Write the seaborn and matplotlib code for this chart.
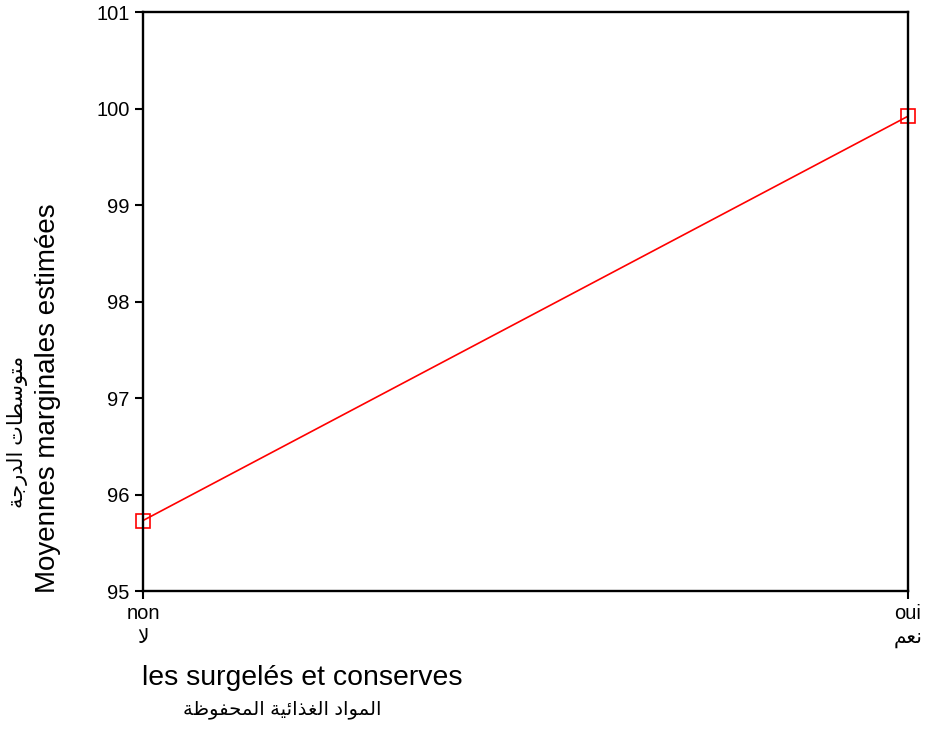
import matplotlib
matplotlib.use("Agg")
import matplotlib.pyplot as plt
import seaborn as sns
import pandas as pd

# data
groups = ["non", "oui"]
groups_ar = ["لا", "نعم"]
means = [95.73, 99.92]

y_ticks = [95, 96, 97, 98, 99, 100, 101]
x_label = "les surgelés et conserves"
x_label_ar = "المواد الغذائية المحفوظة"
y_label = "Moyennes marginales estimées"
y_label_ar = "متوسطات الدرجة"

# minimal arabic shaping (matplotlib has no bidi / joining)
DUAL = {'ت': 0xFE95, 'ج': 0xFE9D, 'ح': 0xFEA1, 'س': 0xFEB1, 'ط': 0xFEC1,
        'ظ': 0xFEC5, 'ع': 0xFEC9, 'غ': 0xFECD, 'ف': 0xFED1, 'ل': 0xFEDD,
        'م': 0xFEE1, 'ن': 0xFEE5, 'ي': 0xFEF1, 'ئ': 0xFE89}
RIGHT = {'ا': 0xFE8D, 'ة': 0xFE93, 'د': 0xFEA9, 'ذ': 0xFEAB, 'ر': 0xFEAD,
         'و': 0xFEED, '\uFEFB': 0xFEFB}


def shape(text):
    s = text.replace('لا', '\uFEFB')
    res = []
    for i, c in enumerate(s):
        if c in DUAL:
            base = DUAL[c]
        elif c in RIGHT:
            base = RIGHT[c]
        else:
            res.append(c)
            continue
        prev = s[i - 1] if i > 0 else ''
        nxt = s[i + 1] if i + 1 < len(s) else ''
        form = 0
        if prev in DUAL:
            form += 1
        if c in DUAL and (nxt in DUAL or nxt in RIGHT):
            form += 2
        res.append(chr(base + form))
    return ''.join(res)[::-1]


sns.set_style("ticks", {"text.color": "black", "xtick.color": "black",
                        "ytick.color": "black", "axes.edgecolor": "black"})
plt.rcParams['font.family'] = ['Liberation Sans', 'DejaVu Sans']

df = pd.DataFrame({"group": groups, "mean": means})

fig = plt.figure(figsize=(9.32, 7.29), dpi=100)
ax = fig.add_axes([0.1534, 0.1893, 0.8208, 0.7942])

sns.lineplot(data=df, x="group", y="mean", ax=ax, color="red", linewidth=1.2,
             marker="s", markersize=9.5, markerfacecolor="none",
             markeredgecolor="red", markeredgewidth=1.2, clip_on=False)

ax.set_xlim(0, 1)
ax.set_ylim(95, 101)
ax.set_yticks(y_ticks)
ax.set_yticklabels([str(t) for t in y_ticks], fontsize=14.5)
ax.set_xticks([0, 1])
ax.set_xticklabels([g + "\n" + shape(a) for g, a in zip(groups, groups_ar)],
                   fontsize=14.5, linespacing=1.3)
ax.set_xlabel("")
ax.set_ylabel("")

for sp in ax.spines.values():
    sp.set_visible(True)
    sp.set_linewidth(1.7)
    sp.set_color("black")
ax.tick_params(length=6, width=1.5, color="black", labelcolor="black")

fig.text(0.324, 0.070, x_label, fontsize=20.4, ha="center", va="center")
fig.text(0.3026, 0.026, shape(x_label_ar), fontsize=14, ha="center", va="center")
fig.text(0.0515, 0.454, y_label, fontsize=20, rotation=90, ha="center", va="center")
fig.text(0.019, 0.407, shape(y_label_ar), fontsize=15, rotation=90, ha="center", va="center")

fig.savefig("out.png", dpi=100)
